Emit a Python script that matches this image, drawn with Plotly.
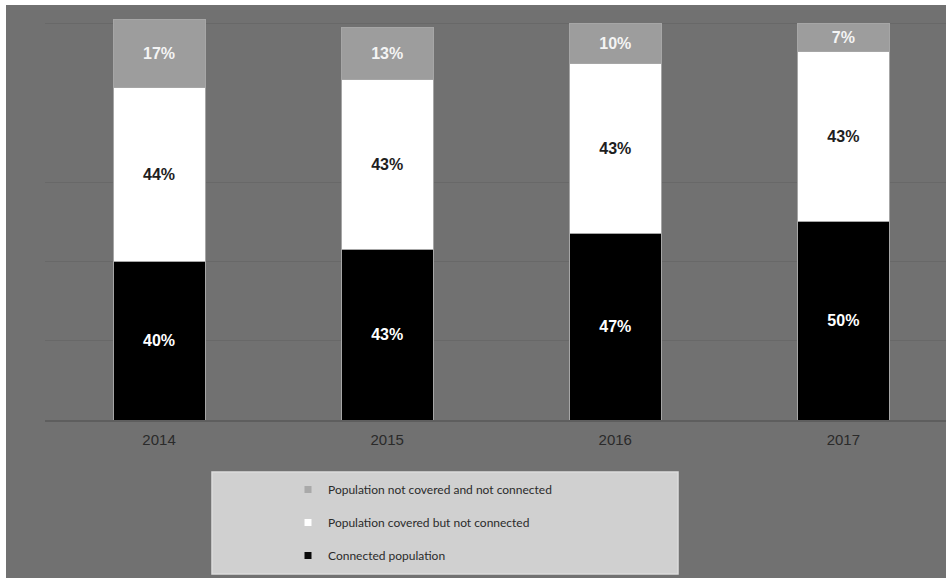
import plotly.graph_objects as go

# Data
years = ["2014", "2015", "2016", "2017"]
connected = [40, 43, 47, 50]
covered_not_connected = [44, 43, 43, 43]
not_covered = [17, 13, 10, 7]

series_names = [
    "Connected population",
    "Population covered but not connected",
    "Population not covered and not connected",
]
series_values = [connected, covered_not_connected, not_covered]
series_colors = ["#000000", "#ffffff", "#9d9d9d"]
label_colors = ["#ffffff", "#1e1e1e", "#f4f4f4"]
legend_marker_colors = ["#0a0a0a", "#ffffff", "#a9a9a9"]

# Page geometry (px)
W, H = 946, 578
ML, MR, MT, MB = 45, 0, 4, 158
BG = "#717171"

fig = go.Figure()

for name, vals, col, lcol in zip(series_names, series_values, series_colors, label_colors):
    fig.add_trace(go.Bar(
        x=years, y=vals, name=name,
        marker=dict(color=col, line=dict(color="#a6a6a6", width=1)),
        texttemplate="%{y}%",
        textposition="inside",
        insidetextanchor="middle",
        constraintext="none",
        textfont=dict(family="Liberation Sans, Arial, sans-serif", size=16,
                      color=lcol, weight="bold"),
        showlegend=False,
        hoverinfo="skip",
    ))

# Legend entries with small square swatches
for rank, (name, mcol) in enumerate(zip(series_names, legend_marker_colors)):
    fig.add_trace(go.Scatter(
        x=[None], y=[None], mode="markers", name=name,
        marker=dict(symbol="square", size=7, color=mcol,
                    line=dict(width=0)),
        legendgroup=name, legendrank=100 - rank,
        showlegend=True,
    ))

plot_w = W - ML - MR
plot_h = H - MT - MB

def px_x(p):
    return (p - ML) / plot_w

def px_y(p):
    return (H - MB - p) / plot_h

shapes = [
    # gray canvas (leaves a thin white strip at left and top)
    dict(type="rect", xref="paper", yref="paper", layer="below",
         x0=px_x(6), x1=px_x(W + 2), y0=px_y(H + 2), y1=px_y(5),
         fillcolor=BG, line=dict(width=0)),
    # legend panel
    dict(type="rect", xref="paper", yref="paper", layer="above",
         x0=px_x(212), x1=px_x(678), y0=px_y(574), y1=px_y(472),
         fillcolor="#d0d0d0", line=dict(color="#dcdcdc", width=1.5)),
]

fig.update_layout(
    width=W, height=H,
    margin=dict(l=ML, r=MR, t=MT, b=MB, pad=0),
    paper_bgcolor="#ffffff",
    plot_bgcolor="rgba(0,0,0,0)",
    barmode="stack",
    bargap=0.597,
    shapes=shapes,
    showlegend=True,
    legend=dict(
        x=px_x(288), y=px_y(475), xanchor="left", yanchor="top",
        bgcolor="rgba(0,0,0,0)", borderwidth=0,
        font=dict(family="Lato, Liberation Sans, sans-serif", size=12, color="#2b2b2b"),
        tracegroupgap=14,
        itemclick=False, itemdoubleclick=False,
    ),
    xaxis=dict(
        type="category",
        range=[-0.5, 3.45],
        showgrid=False, zeroline=False,
        showline=True, linecolor="#5e5e5e", linewidth=2,
        ticks="", ticklabelstandoff=5,
        tickfont=dict(family="Liberation Sans, Arial, sans-serif", size=15, color="#2a2a2a"),
    ),
    yaxis=dict(
        range=[0, 105],
        tickvals=[20, 40, 60, 100],
        showticklabels=False,
        showgrid=True, gridcolor="#686868", gridwidth=1,
        zeroline=False, showline=False,
    ),
)

fig.write_html("out.html")
